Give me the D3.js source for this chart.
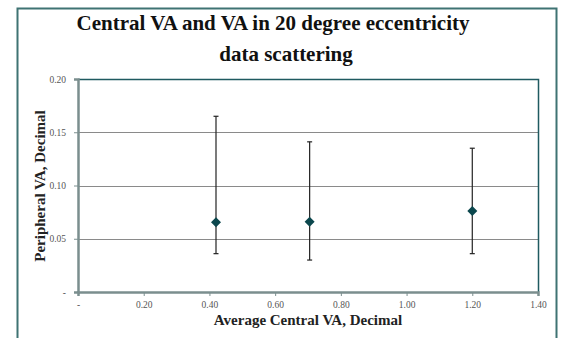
<!DOCTYPE html>
<html>
<head>
<meta charset="utf-8">
<script src="https://cdn.jsdelivr.net/npm/d3@7"></script>
<style>
  body { margin: 0; background: #fff; }
  svg { display: block; }
  text { font-family: "Liberation Serif", "Times New Roman", serif; }
</style>
</head>
<body>
<svg id="chart" width="563" height="338"></svg>
<script>
// data
var centralVA = [0.42, 0.705, 1.20]
var periphVA = [0.0655, 0.066, 0.076]
var errLow = [0.036, 0.030, 0.036]
var errHigh = [0.165, 0.141, 0.135]
var xTicks = [0, 0.2, 0.4, 0.6, 0.8, 1.0, 1.2, 1.4]
var yTicks = [0, 0.05, 0.10, 0.15, 0.20]
var titleLines = ["Central VA and VA in 20 degree eccentricity", "data scattering"]

var points = centralVA.map(function(d, i) {
    return { x: d, y: periphVA[i], lo: errLow[i], hi: errHigh[i] }
})

var svg = d3.select("#chart")
var plotL = 78, plotR = 538, plotT = 79, plotB = 292

var x = d3.scaleLinear().domain([0, 1.4]).range([plotL, plotR])
var y = d3.scaleLinear().domain([0, 0.2]).range([plotB, plotT])

function fmt(d) {
    if (d === 0) return "-"
    return d3.format(".2f")(d)
}

// outer chart frame
svg.append("path")
    .attr("d", "M17.5,340 V8.5 H556.5 V340")
    .attr("fill", "none")
    .attr("stroke", "#3f7373")
    .attr("stroke-width", 2)

// title
var titleX = [273, 286]
svg.selectAll("text.title")
    .data(titleLines)
    .enter().append("text")
    .attr("class", "title")
    .attr("x", function(d, i) { return titleX[i] })
    .attr("y", function(d, i) { return 30 + i * 31 })
    .attr("text-anchor", "middle")
    .style("font-size", "21px")
    .style("font-weight", "bold")
    .style("fill", "#111")
    .text(function(d) { return d })

// gridlines
svg.append("g")
    .selectAll("line")
    .data(yTicks.filter(function(d) { return d > 0 && d < 0.2 }))
    .enter().append("line")
    .attr("x1", plotL).attr("x2", plotR)
    .attr("y1", function(d) { return Math.round(y(d)) + 0.5 })
    .attr("y2", function(d) { return Math.round(y(d)) + 0.5 })
    .attr("stroke", "#8a8a8a")
    .attr("stroke-width", 1)

// plot area top and right border
svg.append("path")
    .attr("d", "M" + plotL + "," + (plotT + 0.5) + " H" + (plotR + 0.5) + " V" + plotB)
    .attr("fill", "none")
    .attr("stroke", "#1f5a60")
    .attr("stroke-width", 1.5)

// axes
var yAxis = d3.axisLeft(y).tickValues(yTicks).tickFormat(fmt).tickSize(4).tickPadding(8)
var xAxis = d3.axisBottom(x).tickValues(xTicks).tickFormat(fmt).tickSize(4).tickPadding(5)

var gy = svg.append("g").attr("transform", "translate(" + plotL + ",0)").call(yAxis)
var gx = svg.append("g").attr("transform", "translate(0," + plotB + ")").call(xAxis)

;[gx, gy].forEach(function(g) {
    g.select(".domain").attr("stroke", "#7b8e8e").attr("stroke-width", 2.5)
    g.selectAll(".tick line").attr("stroke", "#7b8e8e")
    g.selectAll(".tick text")
        .style("font-family", "Liberation Serif, serif")
        .style("font-size", "9.5px")
        .style("fill", "#555")
})

// axis titles
svg.append("text")
    .attr("x", 308)
    .attr("y", 325)
    .attr("text-anchor", "middle")
    .style("font-size", "15px")
    .style("font-weight", "bold")
    .style("fill", "#222")
    .text("Average Central VA, Decimal")

svg.append("text")
    .attr("transform", "translate(45,186) rotate(-90)")
    .attr("text-anchor", "middle")
    .style("font-size", "15px")
    .style("font-weight", "bold")
    .style("fill", "#222")
    .text("Peripheral VA, Decimal")

// error bars
var eb = svg.append("g").selectAll("g")
    .data(points)
    .enter().append("g")

eb.append("line")
    .attr("x1", function(d) { return x(d.x) }).attr("x2", function(d) { return x(d.x) })
    .attr("y1", function(d) { return y(d.lo) }).attr("y2", function(d) { return y(d.hi) })
    .attr("stroke", "#222").attr("stroke-width", 1.2)

eb.append("line")
    .attr("x1", function(d) { return x(d.x) - 2.5 }).attr("x2", function(d) { return x(d.x) + 2.5 })
    .attr("y1", function(d) { return y(d.lo) }).attr("y2", function(d) { return y(d.lo) })
    .attr("stroke", "#222").attr("stroke-width", 1.2)

eb.append("line")
    .attr("x1", function(d) { return x(d.x) - 2.5 }).attr("x2", function(d) { return x(d.x) + 2.5 })
    .attr("y1", function(d) { return y(d.hi) }).attr("y2", function(d) { return y(d.hi) })
    .attr("stroke", "#222").attr("stroke-width", 1.2)

// diamond markers
svg.append("g").selectAll("path")
    .data(points)
    .enter().append("path")
    .attr("transform", function(d) { return "translate(" + x(d.x) + "," + y(d.y) + ")" })
    .attr("d", "M0,-5 L5,0 L0,5 L-5,0 Z")
    .attr("fill", "#0b474d")
</script>
</body>
</html>
